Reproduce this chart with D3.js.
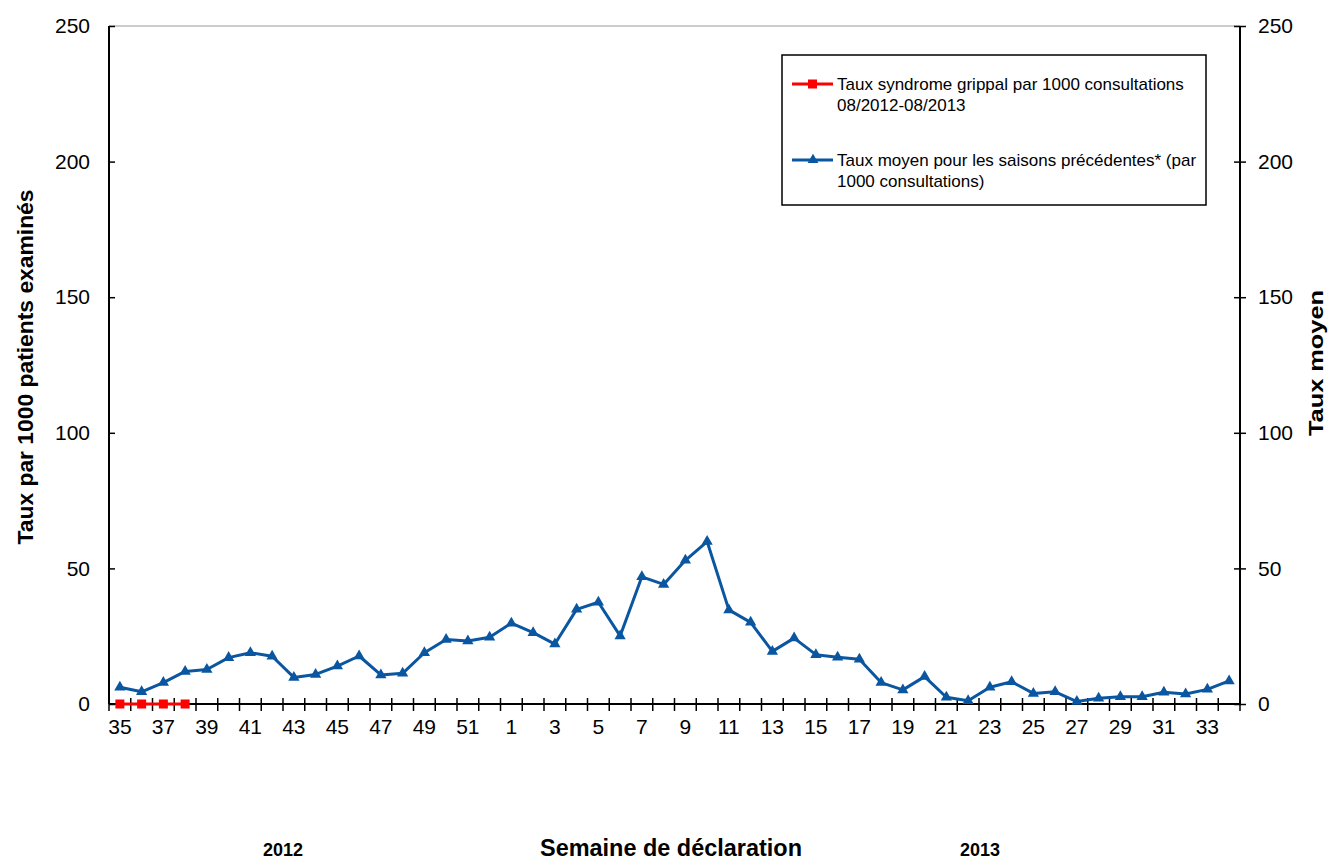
<!DOCTYPE html>
<html>
<head>
<meta charset="utf-8">
<script src="https://cdn.jsdelivr.net/npm/d3@7"></script>
<style>
  body { margin: 0; background: #fff; }
  text { font-family: "Liberation Sans", Arial, sans-serif; }
</style>
</head>
<body>
<svg id="chart" width="1328" height="861"></svg>
<script>
// weeks 35..52 of 2012 then 1..34 of 2013
const weeks2012 = [35,36,37,38,39,40,41,42,43,44,45,46,47,48,49,50,51,52];
const weeks2013 = [1,2,3,4,5,6,7,8,9,10,11,12,13,14,15,16,17,18,19,20,21,22,23,24,25,26,27,28,29,30,31,32,33,34];
const weeks = weeks2012.concat(weeks2013);

// taux syndrome grippal 08/2012-08/2013 (only first weeks reported)
const tauxSaison = [0, 0, 0, 0];

// taux moyen saisons precedentes
const tauxMoyen = [6.2, 4.5, 7.9, 12.0, 12.7, 17.1, 18.9, 17.6, 9.8, 10.9, 14.0, 17.7, 10.7, 11.3, 18.9, 23.8, 23.2, 24.6,
  29.8, 26.3, 22.1, 34.9, 37.5, 25.1, 46.9, 44.1, 53.0, 59.9, 34.7, 30.1, 19.4, 24.3, 18.2, 17.2, 16.5,
  7.9, 5.2, 10.1, 2.5, 1.2, 6.2, 8.2, 3.9, 4.5, 0.9, 2.1, 2.7, 2.7, 4.3, 3.7, 5.4, 8.5];

const yTicks = [0, 50, 100, 150, 200, 250];

const margin = { left: 109, right: 88, top: 26, bottom: 157 };
const width = 1328 - margin.left - margin.right;
const height = 861 - margin.top - margin.bottom;

const svg = d3.select('#chart');
const g = svg.append('g').attr('transform', 'translate(' + margin.left + ',' + margin.top + ')');

const x = d3.scaleBand()
    .domain(d3.range(weeks.length))
    .range([0, width]);

const y = d3.scaleLinear()
    .domain([0, 250])
    .range([height, 0]);

const cx = i => x(i) + x.bandwidth() / 2;

// top border of plot area
g.append('line')
    .attr('x1', 0).attr('x2', width)
    .attr('y1', 0).attr('y2', 0)
    .attr('stroke', '#999').attr('stroke-width', 1);

// left axis
const yAxisL = g.append('g')
    .call(d3.axisLeft(y).tickValues(yTicks).tickSize(6).tickPadding(13));
yAxisL.selectAll('.tick line').attr('x2', 6);
// right axis
const yAxisR = g.append('g')
    .attr('transform', 'translate(' + width + ',0)')
    .call(d3.axisRight(y).tickValues(yTicks).tickSize(6).tickPadding(12));
yAxisR.selectAll('.tick line').attr('x1', -6);

[yAxisL, yAxisR].forEach(a => {
    a.select('.domain').attr('d', 'M0,0V' + height).attr('stroke', '#000').attr('stroke-width', 2);
    a.selectAll('.tick line').attr('stroke', '#000').attr('stroke-width', 1.5);
    a.selectAll('.tick text').attr('font-size', 21).attr('fill', '#000')
        .attr('font-family', '"Liberation Sans", Arial, sans-serif');
});

// x axis: tick marks at category boundaries
const xAxis = g.append('g').attr('transform', 'translate(0,' + height + ')');
xAxis.append('line')
    .attr('x1', 0).attr('x2', width)
    .attr('stroke', '#000').attr('stroke-width', 2);
xAxis.selectAll('line.tk')
    .data(d3.range(weeks.length + 1))
    .enter().append('line')
    .attr('class', 'tk')
    .attr('x1', i => i * x.step()).attr('x2', i => i * x.step())
    .attr('y1', -6).attr('y2', 7)
    .attr('stroke', '#000').attr('stroke-width', 1.5);
xAxis.selectAll('text.lbl')
    .data(weeks.map((w, i) => ({ w, i })).filter(d => d.i % 2 === 0))
    .enter().append('text')
    .attr('class', 'lbl')
    .attr('x', d => cx(d.i))
    .attr('y', 30)
    .attr('text-anchor', 'middle')
    .attr('font-size', 21)
    .text(d => d.w);

// series lines
const line = d3.line()
    .x((d, i) => cx(i))
    .y(d => y(d));

g.append('path')
    .attr('d', line(tauxMoyen))
    .attr('fill', 'none')
    .attr('stroke', '#0a56a0')
    .attr('stroke-width', 3)
    .attr('stroke-linejoin', 'round');

g.selectAll('path.tri')
    .data(tauxMoyen)
    .enter().append('path')
    .attr('class', 'tri')
    .attr('d', d3.symbol(d3.symbolTriangle, 55))
    .attr('transform', (d, i) => 'translate(' + cx(i) + ',' + y(d) + ')')
    .attr('fill', '#0a56a0');

g.append('path')
    .attr('d', line(tauxSaison))
    .attr('fill', 'none')
    .attr('stroke', '#ff0000')
    .attr('stroke-width', 3);

g.selectAll('rect.sq')
    .data(tauxSaison)
    .enter().append('rect')
    .attr('class', 'sq')
    .attr('x', (d, i) => cx(i) - 4.5)
    .attr('y', d => y(d) - 4.5)
    .attr('width', 9).attr('height', 9)
    .attr('fill', '#ff0000');

// axis titles
svg.append('text')
    .attr('transform', 'translate(33,' + (margin.top + height / 2 + 2) + ') rotate(-90)')
    .attr('text-anchor', 'middle')
    .attr('font-size', 22)
    .attr('font-weight', 'bold')
    .attr('textLength', 355)
    .attr('lengthAdjust', 'spacingAndGlyphs')
    .text('Taux par 1000 patients examinés');

svg.append('text')
    .attr('transform', 'translate(1323,' + (margin.top + height / 2 - 2) + ') rotate(-90)')
    .attr('text-anchor', 'middle')
    .attr('font-size', 21)
    .attr('font-weight', 'bold')
    .attr('textLength', 146)
    .attr('lengthAdjust', 'spacingAndGlyphs')
    .text('Taux moyen');

svg.append('text')
    .attr('x', 671).attr('y', 856)
    .attr('text-anchor', 'middle')
    .attr('font-size', 23)
    .attr('font-weight', 'bold')
    .attr('textLength', 262)
    .attr('lengthAdjust', 'spacingAndGlyphs')
    .text('Semaine de déclaration');

svg.append('text')
    .attr('x', 283).attr('y', 856)
    .attr('text-anchor', 'middle')
    .attr('font-size', 18)
    .attr('font-weight', 'bold')
    .attr('textLength', 40)
    .attr('lengthAdjust', 'spacingAndGlyphs')
    .text('2012');

svg.append('text')
    .attr('x', 980).attr('y', 856)
    .attr('text-anchor', 'middle')
    .attr('font-size', 18)
    .attr('font-weight', 'bold')
    .attr('textLength', 40)
    .attr('lengthAdjust', 'spacingAndGlyphs')
    .text('2013');

// legend
const legend = svg.append('g').attr('transform', 'translate(782,55)');
legend.append('rect')
    .attr('width', 424).attr('height', 150)
    .attr('fill', '#fff').attr('stroke', '#000').attr('stroke-width', 1.5);

const legItems = [
    { color: '#ff0000', marker: 'square', lines: ['Taux syndrome grippal par 1000 consultations', '08/2012-08/2013'], y: 29 },
    { color: '#0a56a0', marker: 'triangle', lines: ['Taux moyen pour les saisons précédentes* (par', '1000 consultations)'], y: 105 }
];
legItems.forEach(it => {
    const lg = legend.append('g').attr('transform', 'translate(0,' + it.y + ')');
    lg.append('line').attr('x1', 10).attr('x2', 51)
        .attr('stroke', it.color).attr('stroke-width', 3);
    if (it.marker === 'square') {
        lg.append('rect').attr('x', 26).attr('y', -4.5).attr('width', 9).attr('height', 9).attr('fill', it.color);
    } else {
        lg.append('path').attr('d', d3.symbol(d3.symbolTriangle, 50))
            .attr('transform', 'translate(31,0)').attr('fill', it.color);
    }
    it.lines.forEach((t, k) => {
        lg.append('text')
            .attr('x', 55).attr('y', 6 + k * 21)
            .attr('font-size', 17)
            .text(t);
    });
});
</script>
</body>
</html>
